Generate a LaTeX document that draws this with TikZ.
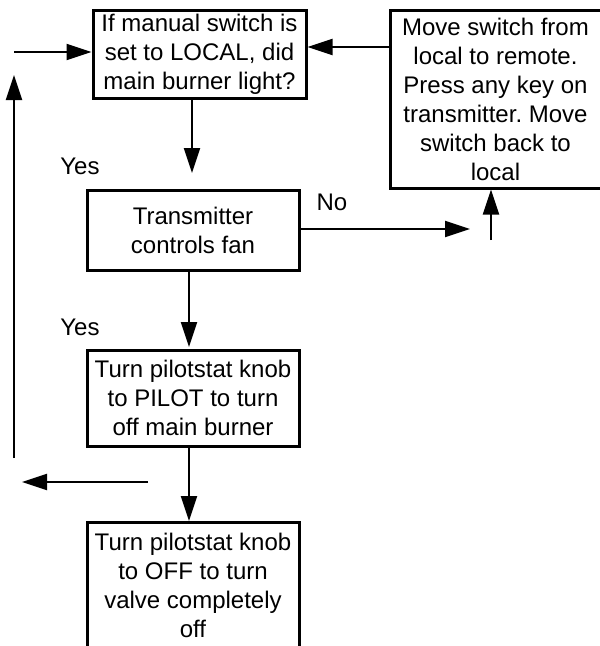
\documentclass[tikz,border=0pt]{standalone}
\usepackage{fontspec}
\setmainfont{Liberation Sans}
\usetikzlibrary{arrows.meta}
\frenchspacing
\begin{document}
\begin{tikzpicture}[
        x=1pt, y=-1pt,
        >={Triangle[length=25pt,width=16pt]},
        every node/.style={font=\fontsize{24}{29}\selectfont},
        flowbox/.style={
            draw,
            line width=3pt,
            align=center,
            inner sep=0pt
        },
        flowline/.style={->, line width=2.2pt},
        flowlabel/.style={inner sep=0pt}
    ]
        \clip (0,0) rectangle (600,646);

        \node[flowbox, minimum width=213pt, minimum height=88pt] (question) at (199.5,54) {If manual switch is\\set to LOCAL, did\\main burner light?};
        \node[flowbox, minimum width=211pt, minimum height=178pt] (reset) at (495.5,99) {Move switch from\\local to remote.\\Press any key on\\transmitter. Move\\switch back to\\local};
        \node[flowbox, minimum width=212pt, minimum height=80pt] (fan) at (193,230) {Transmitter\\controls fan};
        \node[flowbox, minimum width=212pt, minimum height=96pt] (pilot) at (193,398) {Turn pilotstat knob\\to PILOT to turn\\off main burner};
        \node[flowbox, minimum width=212pt, minimum height=126pt, anchor=north] (off) at (193,521) {Turn pilotstat knob\\to OFF to turn\\valve completely\\off};

        \node[flowlabel] (yesfan) at (80,166) {Yes};
        \node[flowlabel] (yespilot) at (80,327) {Yes};
        \node[flowlabel] (nofan) at (332,202) {No};

        \coordinate (entry) at (14,52);
        \coordinate (questionend) at (192,173);
        \coordinate (fanend) at (470,229);
        \coordinate (upstart) at (491,240);
        \coordinate (pilotend) at (189,347);
        \coordinate (backstart) at (148,482);
        \coordinate (backend) at (22,482);
        \coordinate (loopstart) at (14,458);
        \coordinate (loopend) at (14,75);

        \draw[flowline] (entry) -- (question.west |- entry);
        \draw[flowline] (reset.west |- 0,47) -- (question.east |- 0,47);
        \draw[flowline] (question.south -| questionend) -- (questionend);
        \draw[flowline] (fan.east |- fanend) -- (fanend);
        \draw[flowline] (upstart) -- (reset.south -| upstart);
        \draw[flowline] (fan.south -| pilotend) -- (pilotend);
        \draw[flowline] (pilot.south -| pilotend) -- (off.north -| pilotend);
        \draw[flowline] (backstart) -- (backend);
        \draw[flowline] (loopstart) -- (loopend);
    \end{tikzpicture}
\end{document}
